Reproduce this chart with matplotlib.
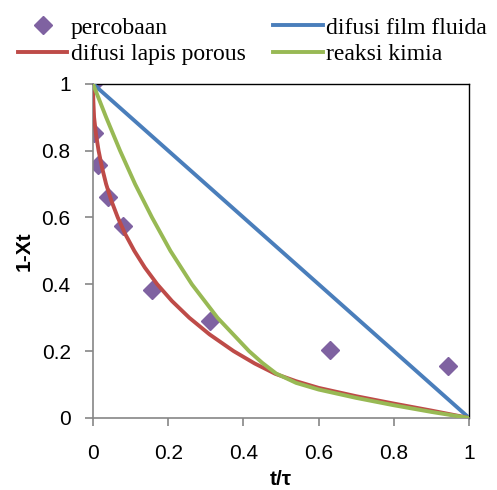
import matplotlib
matplotlib.use("Agg")
import matplotlib.pyplot as plt

# ____________________ data ____________________ #

# percobaan (experiment)
exp_t = [0.0, 0.004, 0.013, 0.039, 0.079, 0.157, 0.311, 0.630, 0.945]
exp_y = [1.0, 0.852, 0.757, 0.660, 0.573, 0.383, 0.290, 0.204, 0.157]

# difusi film fluida
film_t = [0.0, 1.0]
film_y = [1.0, 0.0]

# difusi lapis porous
porous_t = [0.0, 0.001, 0.003, 0.008, 0.015, 0.024, 0.035, 0.049, 0.066, 0.086,
            0.110, 0.138, 0.171, 0.210, 0.256, 0.310, 0.374, 0.430, 0.485,
            0.540, 0.600, 0.700, 0.800, 0.900, 1.0]
porous_y = [1.0, 0.95, 0.90, 0.85, 0.80, 0.75, 0.70, 0.65, 0.60, 0.55,
            0.50, 0.45, 0.40, 0.35, 0.30, 0.25, 0.20, 0.163, 0.132,
            0.110, 0.090, 0.065, 0.043, 0.022, 0.0]

# reaksi kimia
kimia_t = [0.0, 0.035, 0.072, 0.112, 0.157, 0.206, 0.263, 0.331, 0.415,
           0.450, 0.487, 0.540, 0.600, 0.700, 0.800, 0.900, 1.0]
kimia_y = [1.0, 0.90, 0.80, 0.70, 0.60, 0.50, 0.40, 0.30, 0.20,
           0.165, 0.133, 0.105, 0.085, 0.060, 0.038, 0.018, 0.0]

ticks = [0, 0.2, 0.4, 0.6, 0.8, 1]
tick_labels = ["0", "0.2", "0.4", "0.6", "0.8", "1"]

# ____________________ plot ____________________ #

fig = plt.figure(figsize=(4.97, 4.90), dpi=100)
ax = fig.add_axes([0.187, 0.147, 0.757, 0.682])

ax.plot(exp_t, exp_y, linestyle="none", marker="D", markersize=9.5,
        color="#7F62A1", label="percobaan", zorder=2)
ax.plot(film_t, film_y, color="#4A7EBB", lw=2.8, label="difusi film fluida", zorder=3)
ax.plot(porous_t, porous_y, color="#BE4B48", lw=2.8, label="difusi lapis porous", zorder=3)
ax.plot(kimia_t, kimia_y, color="#98B954", lw=2.8, label="reaksi kimia", zorder=4)

ax.set_xlim(0, 1)
ax.set_ylim(0, 1)
ax.set_xticks(ticks)
ax.set_xticklabels(tick_labels)
ax.set_yticks(ticks)
ax.set_yticklabels(tick_labels)

for lab in ax.get_xticklabels() + ax.get_yticklabels():
    lab.set_fontfamily("Liberation Sans")
    lab.set_fontsize(15)
ax.tick_params(axis="both", direction="out", length=6, width=1.2,
               color="#868686")
ax.tick_params(axis="x", pad=13)
ax.tick_params(axis="y", pad=10)

for side in ["left", "bottom"]:
    ax.spines[side].set_color("#868686")
    ax.spines[side].set_linewidth(1.2)
for side in ["top", "right"]:
    ax.spines[side].set_color("black")
    ax.spines[side].set_linewidth(1.0)

ax.set_xlabel("t/τ", fontfamily="Liberation Sans", fontsize=15,
              fontweight="bold", labelpad=5)
ax.set_ylabel("1-Xt", fontfamily="Liberation Sans", fontsize=15,
              fontweight="bold", labelpad=6)

# legend: two columns above the plot area
handles, labels = ax.get_legend_handles_labels()
order = [0, 2, 1, 3]
fig.legend([handles[i] for i in order], [labels[i] for i in order],
           loc="upper left", bbox_to_anchor=(0.036, 0.965), ncol=2,
           frameon=False, prop={"family": "Liberation Serif", "size": 17},
           handlelength=2.1, handletextpad=0.15, columnspacing=1.15,
           labelspacing=0.2, borderpad=0, borderaxespad=0)

fig.savefig("out.png", dpi=100)
